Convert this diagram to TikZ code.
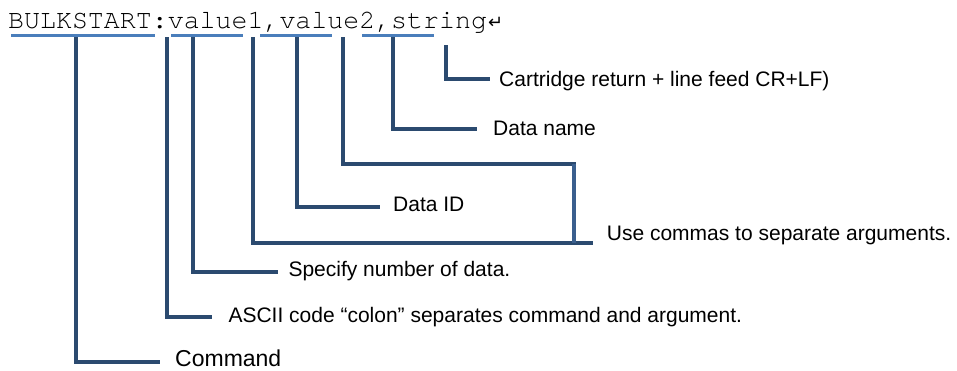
\documentclass[tikz,border=0pt]{standalone}
\usepackage{fontspec}
\setmainfont{Liberation Sans}
\newfontfamily\codefont{TeX Gyre Cursor}
\newfontfamily\symfont{DejaVu Sans}
\definecolor{ulblue}{HTML}{4A7EBB}
\definecolor{lnnavy}{HTML}{2B4A6F}
\definecolor{lnmid}{HTML}{3A5F8E}
\tikzset{
  ul/.style={draw=ulblue,line width=3pt},
  lead/.style={draw=lnnavy,line width=3.6pt,line join=miter},
  lbl/.style={inner sep=0pt,anchor=base west,font=\fontsize{21}{24}\selectfont},
  lblbig/.style={inner sep=0pt,anchor=base west,font=\fontsize{23}{27}\selectfont}
}
\begin{document}
\begin{tikzpicture}[x=1pt,y=-1pt]
\useasboundingbox (0,0) rectangle (957,370);
% command line text
\node[inner sep=0pt,anchor=base west] (cmd) at (8,28.5)
  {\fontsize{26.6}{30}\selectfont\codefont BULKSTART:value1,value2,string\kern1pt\symfont\fontsize{18}{22}\selectfont ↵};
% underlines
\draw[ul] (11,35) -- (155,35);
\draw[ul] (171,35) -- (243,35);
\draw[ul] (260,35.5) -- (332,35.5);
\draw[ul] (362,35) -- (434,35);
% labels
\node[lbl] (lcr) at (499,86) {Cartridge return + line feed CR+LF)};
\node[lbl] (lname) at (493,135) {Data name};
\node[lbl] (lid) at (393,211.7) {Data ID};
\node[lbl] (lcomma) at (606.7,240) {Use commas to separate arguments.};
\node[lbl] (lnum) at (288.3,276) {Specify number of data.};
\node[lbl] (lascii) at (228.3,322) {ASCII code “colon” separates command and argument.};
\node[lblbig] (lcmd) at (175,366.5) {Command};
% connector start points (below the text)
\coordinate (t1) at (76,37);
\coordinate (t2) at (167,37);
\coordinate (t3) at (193,37);
\coordinate (t4) at (253,37);
\coordinate (t5) at (297,37);
\coordinate (t6) at (343,37);
\coordinate (t7) at (393,37);
\coordinate (t8) at (446,45);
% connector end points (beside the labels)
\coordinate (e1) at (160,362);
\coordinate (e2) at (212,317);
\coordinate (e3) at (278,272);
\coordinate (e4) at (593,243);
\coordinate (e5) at (380,207);
\coordinate (e6) at (576,164);
\coordinate (e7) at (477,129);
\coordinate (e8) at (490,79);
\coordinate (j6) at (574,164);
\coordinate (j4) at (574,243);
% connectors
\draw[lead] (t1) |- (e1);
\draw[lead] (t2) |- (e2);
\draw[lead] (t3) |- (e3);
\draw[lead] (t4) |- (e4);
\draw[lead] (t5) |- (e5);
\draw[lead] (t6) |- (e6);
\draw[lead] (t7) |- (e7);
\draw[lead] (t8) |- (e8);
\draw[lead,draw=lnmid] (j6) -- (j4);
\end{tikzpicture}
\end{document}
